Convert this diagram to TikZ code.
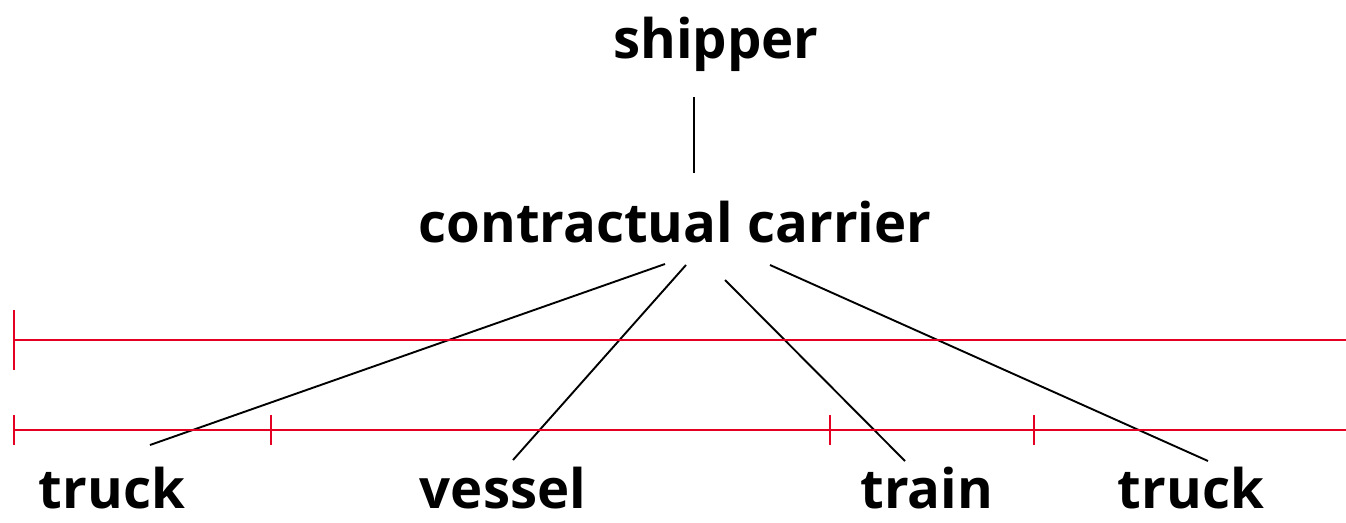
\documentclass[tikz,border=0pt]{standalone}
\usepackage{fontspec}
\setmainfont{Open Sans}
\definecolor{rl}{RGB}{228,0,34}
\begin{document}
\begin{tikzpicture}[x=1pt,y=-1pt,
  lbl/.style={font=\bfseries\fontsize{54.5}{60}\selectfont, inner sep=0pt, anchor=base},
  conn/.style={line width=1.9pt, black},
  red/.style={line width=1.9pt, rl}]
\useasboundingbox (0,0) rectangle (1346,522);
\node[lbl] (ship) at (716,58) {shipper};
\node[lbl] (cc) at (675,242) {contractual carrier};
\node[lbl] (t1) at (112,508) {truck};
\node[lbl] (ve) at (503,508) {vessel};
\node[lbl] (tr) at (927,508) {train};
\node[lbl] (t2) at (1191,508) {truck};
\coordinate (s1) at (694,97);
\coordinate (s2) at (694,173);
\draw[conn] (s1) -- (s2);
\coordinate (c1) at (665,264); \coordinate (e1) at (150,445);
\coordinate (c2) at (686,265); \coordinate (e2) at (513,460);
\coordinate (c3) at (725,280); \coordinate (e3) at (905,461);
\coordinate (c4) at (770,265); \coordinate (e4) at (1208,461);
\draw[conn] (c1) -- (e1);
\draw[conn] (c2) -- (e2);
\draw[conn] (c3) -- (e3);
\draw[conn] (c4) -- (e4);
\coordinate (r1a) at (14,340); \coordinate (r1b) at (1346,340);
\draw[red] (r1a) -- (r1b);
\draw[red] (14,310) -- (14,370);
\coordinate (r2a) at (14,430); \coordinate (r2b) at (1346,430);
\draw[red] (r2a) -- (r2b);
\foreach \x in {14,271,830,1034} \draw[red] (\x,415) -- (\x,445);
\end{tikzpicture}
\end{document}
